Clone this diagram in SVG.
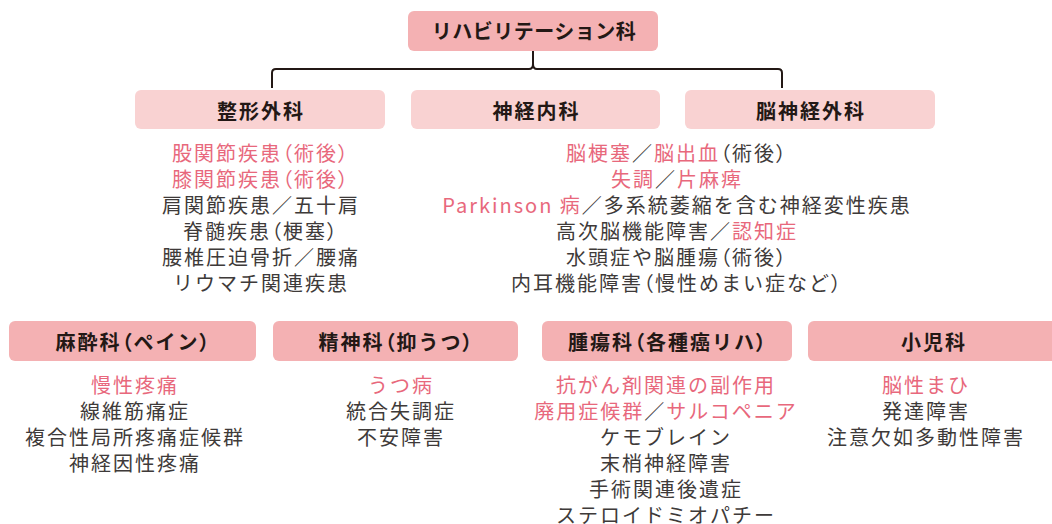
<svg xmlns="http://www.w3.org/2000/svg" width="1052" height="524" viewBox="0 0 1052 524">
  <style>
    .dark { fill: #f4b1b3; }
    .light { fill: #f9d2d2; }
    .lbl { font-family: "Noto Sans CJK JP", "Noto Sans", sans-serif; font-weight: 700; font-size: 20px; fill: #231815; text-anchor: middle; letter-spacing: 2px; }
    .lst { font-family: "Noto Sans CJK JP", "Noto Sans", sans-serif; font-size: 20px; fill: #3e3a39; text-anchor: middle; letter-spacing: 2px; }
    .pk { fill: #e8687c; }
    .p { font-feature-settings: "palt"; }
    .conn { fill: none; stroke: #231815; stroke-width: 2; }
  </style>
  <rect width="1052" height="524" fill="#ffffff"/>

  <g id="connectors">
    <path class="conn" d="M272,88 V73 Q272,69 276,69 H529 Q533,69 533,64 V51 M533,64 Q533,69 537,69 H778 Q782,69 782,73 V88"/>
  </g>

  <g id="node-rehab">
    <rect class="dark" x="408" y="11" width="250" height="40" rx="6"/>
    <text class="lbl" x="534" y="39" style="letter-spacing:0.5px">リハビリテーション科</text>
  </g>

  <g id="node-ortho">
    <rect class="light" x="135" y="90" width="250" height="39" rx="6"/>
    <text class="lbl" x="261" y="119">整形外科</text>
  </g>
  <g id="node-neuro">
    <rect class="light" x="411" y="90" width="249" height="39" rx="6"/>
    <text class="lbl" x="536.5" y="119">神経内科</text>
  </g>
  <g id="node-neurosurg">
    <rect class="light" x="685" y="90" width="250" height="39" rx="6"/>
    <text class="lbl" x="811" y="119">脳神経外科</text>
  </g>

  <g id="list-ortho">
    <text class="lst pk" x="261" y="161">股関節疾患<tspan class="p">（</tspan>術後<tspan class="p">）</tspan></text>
    <text class="lst pk" x="261" y="187">膝関節疾患<tspan class="p">（</tspan>術後<tspan class="p">）</tspan></text>
    <text class="lst" x="261" y="213">肩関節疾患／五十肩</text>
    <text class="lst" x="261" y="239">脊髄疾患<tspan class="p">（</tspan>梗塞<tspan class="p">）</tspan></text>
    <text class="lst" x="261" y="265">腰椎圧迫骨折／腰痛</text>
    <text class="lst" x="261" y="291">リウマチ関連疾患</text>
  </g>

  <g id="list-neuro">
    <text class="lst" x="677" y="161"><tspan class="pk">脳梗塞</tspan>／<tspan class="pk">脳出血</tspan><tspan class="p">（</tspan>術後<tspan class="p">）</tspan></text>
    <text class="lst" x="677" y="187"><tspan class="pk">失調</tspan>／<tspan class="pk">片麻痺</tspan></text>
    <text class="lst" x="677" y="213"><tspan class="pk">Parkinson 病</tspan>／多系統萎縮を含む神経変性疾患</text>
    <text class="lst" x="677" y="239">高次脳機能障害／<tspan class="pk">認知症</tspan></text>
    <text class="lst" x="677" y="265">水頭症や脳腫瘍<tspan class="p">（</tspan>術後<tspan class="p">）</tspan></text>
    <text class="lst" x="677" y="291">内耳機能障害<tspan class="p">（</tspan>慢性めまい症など<tspan class="p">）</tspan></text>
  </g>

  <g id="node-anesth">
    <rect class="dark" x="9" y="321" width="247" height="40" rx="6"/>
    <text class="lbl" x="133.5" y="350">麻酔科<tspan class="p">（</tspan>ペイン<tspan class="p">）</tspan></text>
  </g>
  <g id="node-psych">
    <rect class="dark" x="273" y="321" width="245" height="40" rx="6"/>
    <text class="lbl" x="396.5" y="350">精神科<tspan class="p">（</tspan>抑うつ<tspan class="p">）</tspan></text>
  </g>
  <g id="node-onco">
    <rect class="dark" x="542" y="321" width="250" height="40" rx="6"/>
    <text class="lbl" x="668" y="350">腫瘍科<tspan class="p">（</tspan>各種癌リハ<tspan class="p">）</tspan></text>
  </g>
  <g id="node-pedi">
    <rect class="dark" x="808" y="321" width="252" height="40" rx="6"/>
    <text class="lbl" x="934" y="350">小児科</text>
  </g>

  <g id="list-anesth">
    <text class="lst pk" x="135" y="393">慢性疼痛</text>
    <text class="lst" x="135" y="419">線維筋痛症</text>
    <text class="lst" x="135" y="445">複合性局所疼痛症候群</text>
    <text class="lst" x="135" y="471">神経因性疼痛</text>
  </g>
  <g id="list-psych">
    <text class="lst pk" x="401" y="393">うつ病</text>
    <text class="lst" x="401" y="419">統合失調症</text>
    <text class="lst" x="401" y="445">不安障害</text>
  </g>
  <g id="list-onco">
    <text class="lst pk" x="666" y="393">抗がん剤関連の副作用</text>
    <text class="lst" x="666" y="419"><tspan class="pk">廃用症候群</tspan>／<tspan class="pk">サルコペニア</tspan></text>
    <text class="lst" x="666" y="445">ケモブレイン</text>
    <text class="lst" x="666" y="471">末梢神経障害</text>
    <text class="lst" x="666" y="497">手術関連後遺症</text>
    <text class="lst" x="666" y="523">ステロイドミオパチー</text>
  </g>
  <g id="list-pedi">
    <text class="lst pk" x="926" y="393">脳性まひ</text>
    <text class="lst" x="926" y="419">発達障害</text>
    <text class="lst" x="926" y="445">注意欠如多動性障害</text>
  </g>
</svg>
